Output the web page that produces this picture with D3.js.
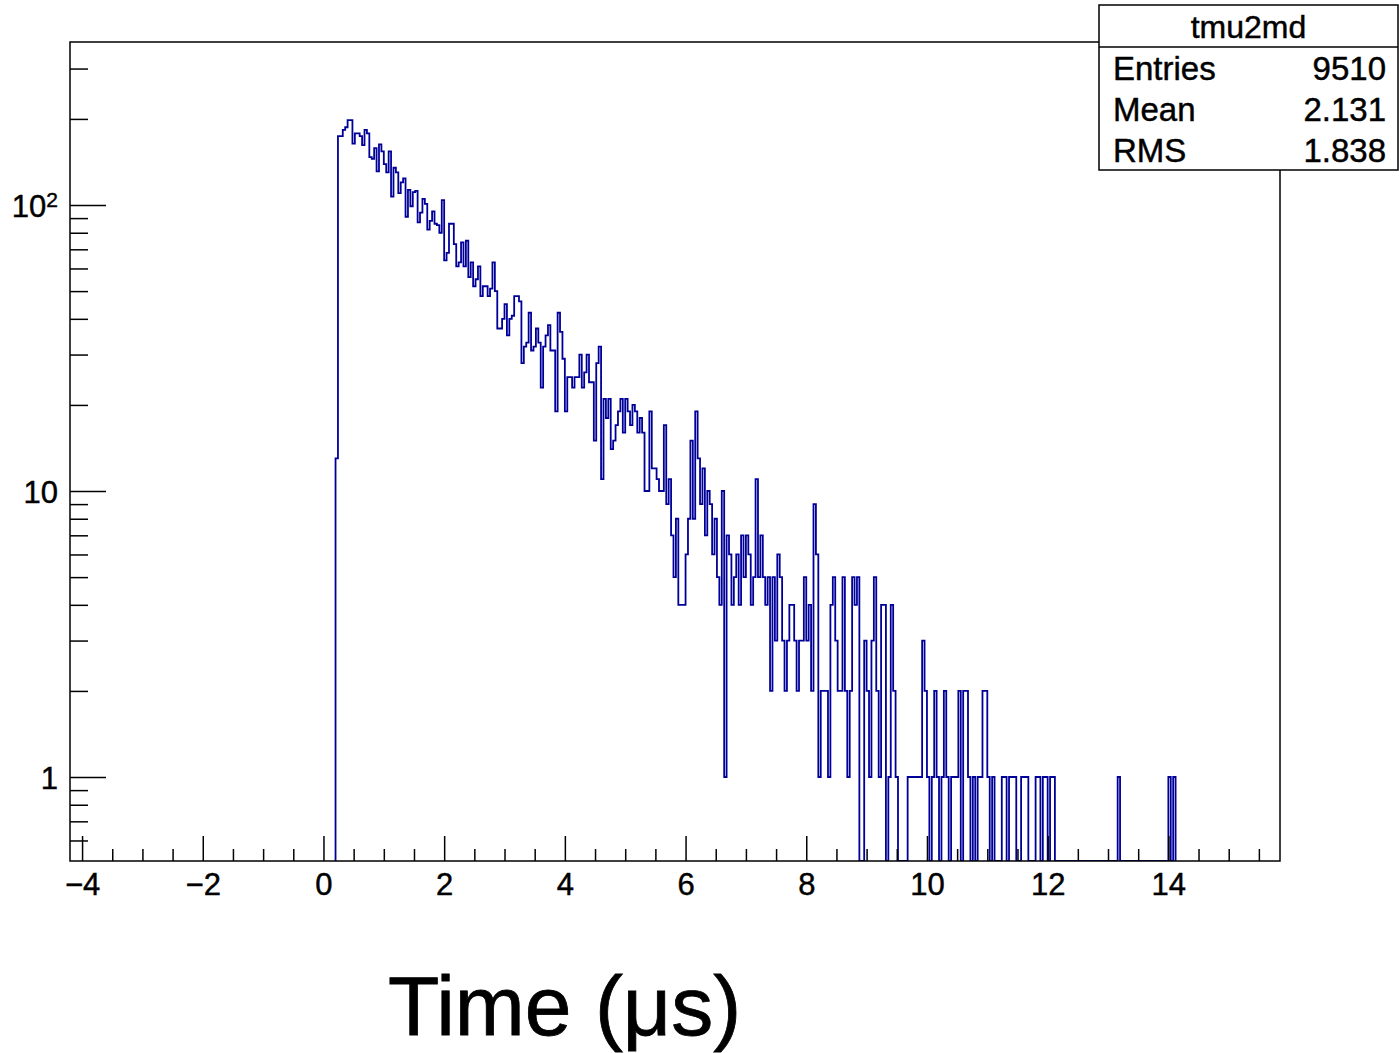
<!DOCTYPE html>
<html>
<head>
<meta charset="utf-8">
<script src="https://cdn.jsdelivr.net/npm/d3@7"></script>
<style>
  html, body { margin: 0; padding: 0; background: #fff; }
  svg { display: block; }
  text { font-family: "Liberation Sans", Arial, Helvetica, sans-serif; fill: #000; stroke: #000; stroke-width: 0.45px; }
</style>
</head>
<body>
<svg id="chart" width="1399" height="1053"></svg>
<script>
// Histogram "tmu2md": decay-time spectrum, fixed-width bins starting at binStart (µs)
const binStart = 0.2;
const binWidth = 0.04;

// counts per bin, 0.20 – 1.48 µs
const countsRise = [13, 174, 174, 183, 187, 198, 198, 164, 178, 178,
  174, 162, 183, 178, 147, 145, 158, 131, 163, 154,
  139, 130, 154, 107, 135, 130, 110, 120, 124, 91,
  113, 99];
// 1.48 – 2.76 µs
const countsEarly = [111, 112, 87, 94, 105, 101, 82, 88, 95, 86,
  85, 80, 104, 64, 68, 86, 86, 73, 61, 63,
  74, 61, 75, 56, 63, 52, 55, 61, 48, 52,
  52, 48];
// 2.76 – 4.00 µs
const countsMid1 = [51, 63, 50, 37, 37, 40, 45, 35, 40, 41,
  48, 48, 46, 28, 32, 33, 42, 31, 32, 37,
  33, 23, 32, 35, 38, 31, 31, 19, 42, 36,
  29];
// 4.00 – 5.24 µs
const countsMid2 = [19, 25, 25, 23, 25, 25, 30, 23, 26, 30,
  24, 24, 15, 28, 32, 11, 21, 18, 21, 14,
  15, 17, 19, 21, 16, 21, 19, 17, 20, 19,
  16];
// 5.24 – 6.48 µs
const countsMid3 = [18, 16, 10, 10, 19, 12, 12, 11, 10, 10,
  17, 9, 11, 7, 5, 8, 4, 4, 4, 6,
  8, 15, 8, 19, 13, 9, 12, 7, 10, 9,
  6];
// 6.48 – 7.64 µs
const countsLate1 = [8, 5, 4, 10, 1, 7, 6, 4, 5, 6,
  4, 7, 5, 7, 6, 4, 5, 11, 5, 7,
  5, 4, 5, 2, 5, 3, 6, 5, 3];
// 7.64 – 8.88 µs
const countsLate2 = [2, 3, 4, 4, 3, 2, 3, 3, 5, 3,
  4, 2, 9, 6, 1, 2, 2, 2, 1, 4,
  5, 3, 2, 2, 5, 2, 1, 2, 5, 4,
  5];
// 8.88 – 10.08 µs
const countsLate3 = [0, 0, 3, 2, 1, 3, 5, 2, 1, 4,
  4, 0, 1, 4, 2, 1, 0, 0, 0, 0,
  1, 1, 1, 1, 1, 1, 3, 2, 1, 0];
// 10.08 – 12.12 µs
const countsTail1 = [1, 2, 1, 0, 1, 2, 1, 0, 1, 1,
  1, 2, 0, 2, 2, 1, 0, 1, 0, 1,
  1, 2, 2, 1, 0, 1, 0, 0, 0, 1,
  1, 0, 1, 1, 1, 0, 0, 1, 1, 1,
  0, 0, 0, 1, 1, 0, 1, 1, 0, 1,
  1];
// 12.12 – 14.12 µs
const countsTail2 = [0, 0, 0, 0, 0, 0, 0, 0, 0, 0,
  0, 0, 0, 0, 0, 0, 0, 0, 0, 0,
  0, 0, 0, 0, 0, 0, 1, 0, 0, 0,
  0, 0, 0, 0, 0, 0, 0, 0, 0, 0,
  0, 0, 0, 0, 0, 0, 0, 1, 0, 1];

// axis tick values
const xMajorTicks = [-4, -2, 0, 2, 4, 6, 8, 10, 12, 14];
const yMajorTicks = [1, 10, 100];
const yTickLabels = ["1", "10", "10|2"];

// statistics box
const statsTitle = "tmu2md";
const statsNames = ["Entries", "Mean", "RMS"];
const statsValues = ["9510", "2.131", "1.838"];

const xTitle = "Time (\u03bcs)";

const counts = [].concat(countsRise, countsEarly, countsMid1, countsMid2,
  countsMid3, countsLate1, countsLate2, countsLate3, countsTail1, countsTail2);

// ---- layout ----
const frame = { left: 70, top: 42, right: 1280, bottom: 861 };
const svg = d3.select("#chart");

const x = d3.scaleLinear().domain([-4.2, 15.85]).range([frame.left, frame.right]);
const y = d3.scaleLog().domain([0.5086, 371.5]).range([frame.bottom, frame.top]);

svg.append("rect").attr("width", 1399).attr("height", 1053).attr("fill", "#fff");

svg.append("defs").append("clipPath").attr("id", "frameClip")
  .append("rect")
  .attr("x", frame.left).attr("y", frame.top)
  .attr("width", frame.right - frame.left).attr("height", frame.bottom - frame.top);

// ---- histogram outline ----
const pts = [[binStart, 0]];
counts.forEach((c, i) => pts.push([binStart + i * binWidth, c]));
pts.push([binStart + counts.length * binWidth, counts[counts.length - 1]]);
pts.push([binStart + counts.length * binWidth, 0]);

const yPos = v => v > 0 ? y(v) : frame.bottom;

const histLine = d3.line()
  .x(d => x(d[0]))
  .y(d => yPos(d[1]))
  .curve(d3.curveStepAfter);

svg.append("path")
  .attr("clip-path", "url(#frameClip)")
  .attr("d", histLine(pts))
  .attr("fill", "none")
  .attr("stroke", "#000099")
  .attr("stroke-width", 1.8)
  .attr("stroke-linejoin", "miter");

// ---- x axis ----
const fmtX = d => (d < 0 ? "\u2212" + Math.abs(d) : String(d));
const xMinor = d3.range(-4, 15.8, 0.5).filter(v => Math.abs(v % 2) > 1e-6);

const gxMinor = svg.append("g").attr("transform", `translate(0,${frame.bottom})`)
  .call(d3.axisBottom(x).tickValues(xMinor).tickSize(-12).tickFormat(""));
const gx = svg.append("g").attr("transform", `translate(0,${frame.bottom})`)
  .call(d3.axisBottom(x).tickValues(xMajorTicks).tickSize(-25).tickPadding(12).tickFormat(fmtX));
[gxMinor, gx].forEach(g => {
  g.select(".domain").remove();
  g.selectAll(".tick line").attr("stroke", "#000").attr("stroke-width", 1.5);
});
gx.selectAll(".tick text")
  .attr("font-size", 31)
  .attr("font-family", "Liberation Sans, Arial, sans-serif")
  .attr("fill", "#000");

// ---- y axis (log) ----
const yMinor = [];
[0.1, 1, 10, 100].forEach(dec => {
  for (let k = 2; k <= 9; k++) {
    const v = k * dec;
    if (v >= y.domain()[0] && v <= y.domain()[1]) yMinor.push(v);
  }
});

const gyMinor = svg.append("g").attr("transform", `translate(${frame.left},0)`)
  .call(d3.axisLeft(y).tickValues(yMinor).tickSize(-18).tickFormat(""));
const gy = svg.append("g").attr("transform", `translate(${frame.left},0)`)
  .call(d3.axisLeft(y).tickValues(yMajorTicks).tickSize(-36).tickPadding(12).tickFormat(""));
[gyMinor, gy].forEach(g => {
  g.select(".domain").remove();
  g.selectAll(".tick line").attr("stroke", "#000").attr("stroke-width", 1.5);
});
gy.selectAll(".tick").each(function (d, i) {
  const parts = yTickLabels[i].split("|");
  const t = d3.select(this).append("text")
    .attr("x", -12)
    .attr("y", 0)
    .attr("dy", "0.36em")
    .attr("text-anchor", "end")
    .attr("font-size", 31)
    .attr("fill", "#000");
  t.append("tspan").text(parts[0]);
  if (parts[1]) {
    t.append("tspan").attr("dy", "-0.45em").attr("font-size", 21).text(parts[1]);
  }
});

// ---- frame ----
svg.append("rect")
  .attr("x", frame.left).attr("y", frame.top)
  .attr("width", frame.right - frame.left).attr("height", frame.bottom - frame.top)
  .attr("fill", "none").attr("stroke", "#000").attr("stroke-width", 1.5);

// ---- x axis title ----
svg.append("text")
  .attr("x", 388).attr("y", 1035)
  .attr("font-size", 84)
  .style("stroke-width", "0.8px")
  .text(xTitle);

// ---- statistics box ----
const box = { x: 1099, y: 5, w: 299, h: 165, split: 47 };
const gs = svg.append("g");
gs.append("rect")
  .attr("x", box.x).attr("y", box.y).attr("width", box.w).attr("height", box.h)
  .attr("fill", "#fff").attr("stroke", "#000").attr("stroke-width", 1.5);
gs.append("line")
  .attr("x1", box.x).attr("x2", box.x + box.w)
  .attr("y1", box.split).attr("y2", box.split)
  .attr("stroke", "#000").attr("stroke-width", 1.5);
gs.append("text")
  .attr("x", box.x + box.w / 2).attr("y", 38)
  .attr("text-anchor", "middle").attr("font-size", 32)
  .text(statsTitle);
statsNames.forEach((name, i) => {
  const by = 80 + i * 41;
  gs.append("text").attr("x", 1113).attr("y", by).attr("font-size", 33).text(name);
  gs.append("text").attr("x", 1386).attr("y", by).attr("text-anchor", "end")
    .attr("font-size", 33).text(statsValues[i]);
});
</script>
</body>
</html>
